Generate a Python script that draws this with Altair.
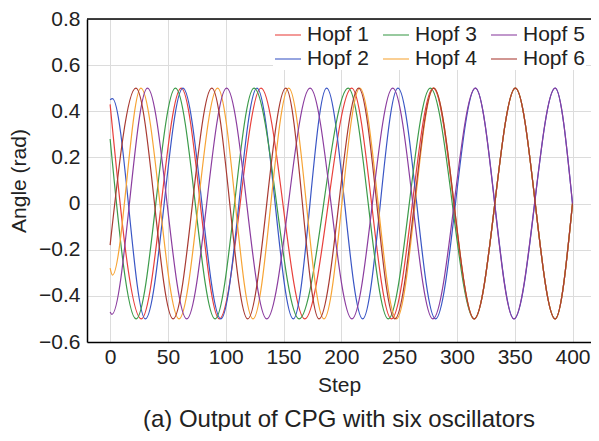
import altair as alt
import pandas as pd

# ---- data (extrema of each oscillator + start/end) ----
series_names = ["Hopf 1", "Hopf 2", "Hopf 3", "Hopf 4", "Hopf 5", "Hopf 6"]

h1_steps = [0, 27, 61.5, 94.5, 130.5, 168.4, 209, 243.4, 279.5, 315, 350.6, 385, 400]
h1_vals = [0.43, -0.5, 0.5, -0.5, 0.5, -0.5, 0.5, -0.5, 0.5, -0.5, 0.5, -0.5, 0.0]

h2_steps = [0, 2, 30.5, 63, 95.8, 127, 158.5, 187.3, 218.5, 249, 281.5, 316, 349.5, 385, 400]
h2_vals = [0.45, 0.455, -0.5, 0.5, -0.5, 0.5, -0.5, 0.5, -0.5, 0.5, -0.5, 0.5, -0.5, 0.5, 0.0]

h3_steps = [0, 22.5, 56.5, 90.8, 124.5, 163.5, 206, 240.6, 277, 315, 350.6, 385, 400]
h3_vals = [0.28, -0.5, 0.5, -0.5, 0.5, -0.5, 0.5, -0.5, 0.5, -0.5, 0.5, -0.5, 0.0]

h4_steps = [0, 2, 26.6, 59.6, 93, 123.6, 154.5, 185, 216, 247.7, 280, 315, 350.6, 385, 400]
h4_vals = [-0.28, -0.31, 0.5, -0.5, 0.5, -0.5, 0.5, -0.5, 0.5, -0.5, 0.5, -0.5, 0.5, -0.5, 0.0]

h5_steps = [0, 1.5, 32.3, 66.3, 100.8, 135.5, 173, 209.2, 244.5, 279.2, 316, 349.3, 385, 400]
h5_vals = [-0.47, -0.48, 0.5, -0.5, 0.5, -0.5, 0.5, -0.5, 0.5, -0.5, 0.5, -0.5, 0.5, 0.0]

h6_steps = [0, 22.3, 54.5, 88, 119, 152, 180.7, 215, 246.3, 280, 315, 350.6, 385, 400]
h6_vals = [-0.18, 0.5, -0.5, 0.5, -0.5, 0.5, -0.5, 0.5, -0.5, 0.5, -0.5, 0.5, -0.5, 0.0]

series_colors = ["#e8403c", "#3a56c5", "#3c9b4a", "#f7a435", "#8b3d9f", "#a83a32"]

x_ticks = [0, 50, 100, 150, 200, 250, 300, 350, 400]
y_ticks = [-0.6, -0.4, -0.2, 0, 0.2, 0.4, 0.6, 0.8]

all_steps = [h1_steps, h2_steps, h3_steps, h4_steps, h5_steps, h6_steps]
all_vals = [h1_vals, h2_vals, h3_vals, h4_vals, h5_vals, h6_vals]

rows = []
for name, st, vl in zip(series_names, all_steps, all_vals):
    for s, v in zip(st, vl):
        rows.append({"Step": s, "Angle": v, "series": name})
df = pd.DataFrame(rows)

FONT = "Liberation Sans"
FS = 21

lines = alt.Chart(df).mark_line(interpolate="monotone", strokeWidth=1.2, clip=True).encode(
    x=alt.X("Step:Q",
            scale=alt.Scale(domain=[-20, 416], nice=False, zero=False),
            axis=alt.Axis(values=x_ticks, title="Step", labelPadding=4, titlePadding=7)),
    y=alt.Y("Angle:Q",
            scale=alt.Scale(domain=[-0.6, 0.8], nice=False),
            axis=alt.Axis(values=y_ticks, format="~g", title="Angle (rad)",
                          labelPadding=7, titlePadding=9)),
    color=alt.Color("series:N",
                    scale=alt.Scale(domain=series_names, range=series_colors),
                    legend=alt.Legend(title=None, orient="none", legendX=186, legendY=1,
                                      columns=3, symbolType="stroke", symbolSize=676,
                                      symbolStrokeWidth=1.5, symbolOpacity=0.7,
                                      labelFont=FONT, labelFontSize=FS, labelColor="#222",
                                      labelOffset=5, columnPadding=11, rowPadding=-1,
                                      padding=1, fillColor="white")),
)

top_frame = alt.Chart(pd.DataFrame({"Angle": [0.8]})).mark_rule(
    color="black", strokeWidth=1.5).encode(y="Angle:Q")

chart = alt.layer(lines, top_frame).properties(
    width=504, height=323,
    autosize=alt.AutoSizeParams(type="none"),
    padding={"left": 79, "top": 11, "right": 0, "bottom": 89},
    title=alt.TitleParams("(a) Output of CPG with six oscillators", orient="bottom",
                          anchor="middle", font=FONT, fontSize=24, fontWeight="normal",
                          color="#222", offset=13),
).configure_view(stroke=None).configure_axis(
    labelFont=FONT, titleFont=FONT, labelFontSize=FS, titleFontSize=FS,
    titleFontWeight="normal", labelColor="#222", titleColor="#222",
    domainColor="black", domainWidth=1.5, ticks=False,
    gridColor="#dcdcdc", gridWidth=1,
)

chart.save("out.html", embed_options={"renderer": "svg", "actions": False})
